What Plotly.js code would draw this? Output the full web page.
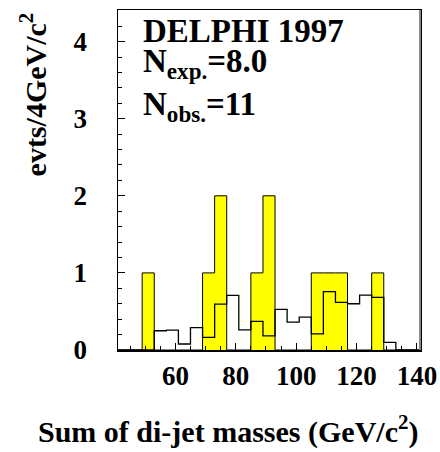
<!DOCTYPE html>
<html>
<head>
<meta charset="utf-8">
<script src="https://cdn.plot.ly/plotly-3.0.1.min.js"></script>
<style>html,body{margin:0;padding:0;background:#fff;}#chart{width:440px;height:452px;}</style>
</head>
<body>
<div id="chart"></div>
<script>
// Bin centres of the di-jet mass histogram (GeV/c^2), 4 GeV bins
const massBinCentres = [43, 47, 51, 55, 59, 63, 67, 71, 75, 79, 83, 87, 91, 95, 99, 103, 107, 111, 115, 119, 123, 127, 131, 135, 139];
// Observed events (yellow)
const observedEvents = [0, 0, 1, 0, 0, 0, 0, 1, 2, 0, 0, 1, 2, 0, 0, 0, 1, 1, 1, 0, 0, 1, 0, 0, 0];
// Expected (simulation) events (black line)
const expectedEvents = [0, 0, 0, 0.25, 0.257, 0.078, 0.291, 0.165, 0.596, 0.709, 0.261, 0.37, 0.183, 0.526, 0.361, 0.426, 0.209, 0.757, 0.617, 0.6, 0.713, 0.683, 0.1, 0, 0];
const xTickValues = [60, 80, 100, 120, 140];
const yTickValues = [0, 1, 2, 3, 4];
const labelTitle = "DELPHI 1997";
const labelExp = "N<sub>exp.</sub>=8.0";
const labelObs = "N<sub>obs.</sub>=11";
const xTitle = "Sum of di-jet masses (GeV/c<sup>2</sup>)";
const yTitle = "evts/4GeV/c<sup>2</sup>";

const binWidth = massBinCentres[1] - massBinCentres[0];
const edges = massBinCentres.map(c => c - binWidth / 2);
edges.push(massBinCentres[massBinCentres.length - 1] + binWidth / 2);
const withLast = arr => arr.concat([arr[arr.length - 1]]);

const FONT = "Liberation Serif, Times New Roman, serif";

const traces = [
  {
    type: 'scatter',
    mode: 'lines',
    x: edges,
    y: withLast(observedEvents),
    fill: 'tozeroy',
    fillcolor: '#ffff00',
    line: {shape: 'hv', color: '#000000', width: 1},
    hoverinfo: 'skip'
  },
  {
    type: 'scatter',
    mode: 'lines',
    x: edges,
    y: withLast(expectedEvents),
    line: {shape: 'hv', color: '#000000', width: 1.3},
    hoverinfo: 'skip'
  }
];

const layout = {
  width: 440,
  height: 452,
  margin: {l: 118, r: 20, t: 10, b: 102},
  paper_bgcolor: '#ffffff',
  plot_bgcolor: '#ffffff',
  showlegend: false,
  font: {family: FONT, color: '#000', size: 27, weight: 'bold'},
  xaxis: {
    range: [41, 141],
    tickvals: xTickValues,
    ticktext: xTickValues.map(String),
    ticks: 'inside',
    ticklen: 7,
    tickwidth: 1,
    tickcolor: '#000',
    minor: {dtick: 5, tick0: 0, ticks: 'inside', ticklen: 4, tickwidth: 1, tickcolor: '#000'},
    showline: true,
    linecolor: '#000',
    linewidth: 1.5,
    mirror: true,
    showgrid: false,
    zeroline: false,
    layer: 'above traces',
    tickfont: {family: FONT, size: 27, weight: 'bold', color: '#000'},
    ticklabelstandoff: 1
  },
  yaxis: {
    range: [0, 4.41],
    tickvals: yTickValues,
    ticktext: yTickValues.map(String),
    ticks: 'inside',
    ticklen: 7,
    tickwidth: 1,
    tickcolor: '#000',
    minor: {dtick: 0.2, tick0: 0, ticks: 'inside', ticklen: 4, tickwidth: 1, tickcolor: '#000'},
    showline: true,
    linecolor: '#000',
    linewidth: 1.5,
    mirror: true,
    showgrid: false,
    zeroline: false,
    layer: 'above traces',
    tickfont: {family: FONT, size: 27, weight: 'bold', color: '#000'},
    ticklabelstandoff: 24
  },
  annotations: [
    {text: labelTitle, xref: 'paper', yref: 'paper', x: 0.075, y: 0.997, xanchor: 'left', yanchor: 'top', showarrow: false,
     font: {family: FONT, size: 33, weight: 'bold', color: '#000'}},
    {text: labelExp, xref: 'paper', yref: 'paper', x: 0.075, y: 0.91, xanchor: 'left', yanchor: 'top', showarrow: false,
     font: {family: FONT, size: 33, weight: 'bold', color: '#000'}},
    {text: labelObs, xref: 'paper', yref: 'paper', x: 0.075, y: 0.782, xanchor: 'left', yanchor: 'top', showarrow: false,
     font: {family: FONT, size: 33, weight: 'bold', color: '#000'}},
    {text: xTitle, xref: 'paper', yref: 'paper', x: 1.0, y: -0.235, xanchor: 'right', yanchor: 'middle', showarrow: false,
     font: {family: FONT, size: 30, weight: 'bold', color: '#000'}},
    {text: yTitle, xref: 'paper', yref: 'paper', x: -0.28, y: 1.0, xanchor: 'center', yanchor: 'top', textangle: -90, showarrow: false,
     font: {family: FONT, size: 30, weight: 'bold', color: '#000'}}
  ],
  shapes: [
    {type: 'line', xref: 'paper', yref: 'paper', x0: 1, x1: 1, y0: 0, y1: 1, line: {color: '#888888', width: 2}}
  ]
};

Plotly.newPlot('chart', traces, layout, {staticPlot: true, displayModeBar: false});
</script>
</body>
</html>
